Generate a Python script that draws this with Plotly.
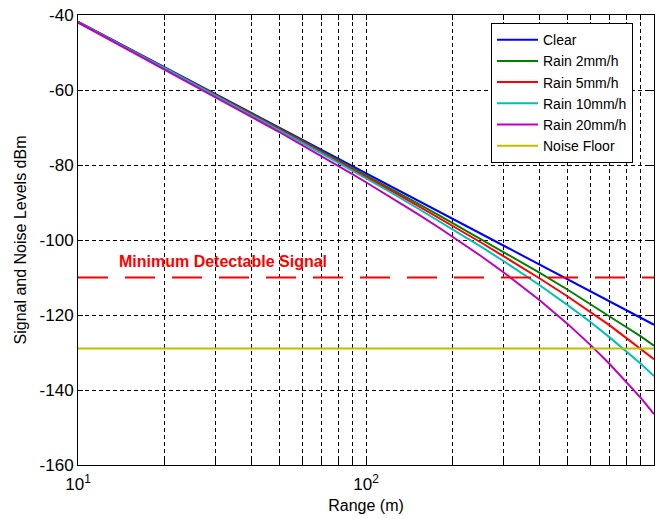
import plotly.graph_objects as go

# Range samples (m)
range_m = [10, 12, 15, 18, 20, 25, 30, 35, 40, 50, 60, 70, 80, 90,
           100, 120, 150, 180, 200, 250, 300, 350, 400, 500, 600, 700, 800, 900, 1000]

# Received signal levels (dBm) for each weather condition
clear = [-41.8, -45.0, -48.9, -52.1, -54.0, -57.9, -61.1, -63.8, -66.1, -70.0, -73.2, -75.9, -78.3, -80.3,
         -82.2, -85.4, -89.3, -92.5, -94.4, -98.3, -101.5, -104.2, -106.5, -110.4, -113.6, -116.3, -118.7, -120.7, -122.6]
rain_2 = [-41.9, -45.1, -49.0, -52.2, -54.1, -58.0, -61.3, -64.0, -66.3, -70.3, -73.5, -76.3, -78.7, -80.8,
          -82.8, -86.1, -90.1, -93.5, -95.5, -99.7, -103.2, -106.2, -108.7, -113.2, -117.0, -120.2, -123.2, -125.7, -128.2]
rain_5 = [-41.9, -45.1, -49.0, -52.3, -54.2, -58.1, -61.4, -64.1, -66.5, -70.5, -73.8, -76.6, -79.0, -81.2,
          -83.1, -86.5, -90.7, -94.2, -96.2, -100.6, -104.3, -107.4, -110.2, -115.0, -119.2, -122.7, -126.1, -129.0, -131.8]
rain_10 = [-41.9, -45.2, -49.1, -52.4, -54.2, -58.2, -61.5, -64.3, -66.7, -70.7, -74.1, -76.9, -79.4, -81.6,
           -83.6, -87.0, -91.4, -95.0, -97.1, -101.7, -105.6, -109.0, -112.0, -117.3, -121.8, -125.9, -129.7, -133.0, -136.3]
rain_20 = [-42.0, -45.3, -49.3, -52.5, -54.4, -58.5, -61.8, -64.6, -67.1, -71.2, -74.7, -77.6, -80.2, -82.5,
           -84.6, -88.3, -92.9, -96.8, -99.2, -104.2, -108.6, -112.5, -116.0, -122.3, -127.9, -133.0, -137.7, -142.1, -146.4]

# Reference levels (dBm)
noise_floor = -128.9
min_detectable = -110.0
x_ends = [10, 1000]

# Axis ticks
y_ticks = [-160, -140, -120, -100, -80, -60, -40]
x_decades = [10, 100, 1000]
x_decade_labels = ["10<sup>1</sup>", "10<sup>2</sup>", "10<sup>3</sup>"]
x_minor = [20, 30, 40, 50, 60, 70, 80, 90, 200, 300, 400, 500, 600, 700, 800, 900]

font_family = "Liberation Sans, Arial, sans-serif"

series = [
    ("Clear", clear, "#0000ff"),
    ("Rain 2mm/h", rain_2, "#008000"),
    ("Rain 5mm/h", rain_5, "#ff0000"),
    ("Rain 10mm/h", rain_10, "#00bfbf"),
    ("Rain 20mm/h", rain_20, "#bf00bf"),
]

fig = go.Figure()
for name, vals, color in series:
    fig.add_trace(go.Scatter(x=range_m, y=vals, mode="lines", name=name,
                             line=dict(color=color, width=2)))

fig.add_trace(go.Scatter(x=x_ends, y=[noise_floor, noise_floor], mode="lines",
                         name="Noise Floor", line=dict(color="#bfbf00", width=2)))
fig.add_trace(go.Scatter(x=x_ends, y=[min_detectable, min_detectable], mode="lines",
                         showlegend=False,
                         line=dict(color="#ff0000", width=2, dash="30px,17px")))

fig.add_annotation(x=1.135, y=-105.8, xref="x", yref="y", xanchor="left",
                   yanchor="middle", showarrow=False,
                   text="<b>Minimum Detectable Signal</b>",
                   font=dict(family=font_family, size=16, color="#ff0000"))

grid_style = dict(showgrid=True, gridcolor="black", gridwidth=1, griddash="4px,3px")

axis_common = dict(showline=True, linecolor="black", linewidth=1, mirror="ticks",
                   ticks="inside", ticklen=5, tickcolor="black",
                   zeroline=False, automargin=False,
                   tickfont=dict(family=font_family, size=17, color="black"),
                   **grid_style)

fig.update_xaxes(type="log", range=[1, 3],
                 tickvals=x_decades, ticktext=x_decade_labels,
                 ticklabelstandoff=4,
                 minor=dict(tickvals=x_minor, ticks="inside", ticklen=5,
                            tickcolor="black", **grid_style),
                 title=dict(text="Range (m)", standoff=6,
                            font=dict(family=font_family, size=16, color="black")),
                 **axis_common)
fig.update_yaxes(range=[-160, -40], tickvals=y_ticks,
                 ticktext=[str(v) for v in y_ticks],
                 title=dict(text="Signal and Noise Levels dBm", standoff=8,
                            font=dict(family=font_family, size=16, color="black")),
                 **axis_common)

fig.update_layout(
    width=664, height=519,
    margin=dict(l=78, r=10, t=15, b=54),
    plot_bgcolor="white", paper_bgcolor="white",
    font=dict(family=font_family, size=16, color="black"),
    legend=dict(x=0.717, y=0.982, xanchor="left", yanchor="top",
                bgcolor="white", bordercolor="black", borderwidth=1,
                font=dict(family=font_family, size=14, color="black"),
                itemwidth=41),
)

fig.write_html("out.html")
